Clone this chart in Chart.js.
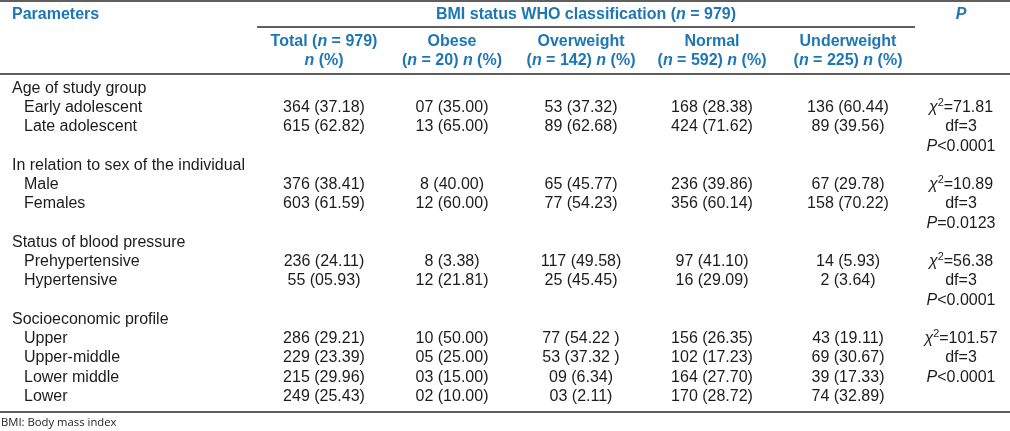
<!DOCTYPE html>
<html><head><meta charset="utf-8">
<script src="https://cdn.jsdelivr.net/npm/chart.js@4"></script>
<style>html,body{margin:0;padding:0;background:#fff;overflow:hidden}canvas{display:block}</style>
</head><body><canvas id="c" width="1010" height="431"></canvas>
<script>
// ---------- DATA ----------
const groupLabels = ["Age of study group", "In relation to sex of the individual", "Status of blood pressure", "Socioeconomic profile"];
const subLabels = [["Early adolescent", "Late adolescent"], ["Male", "Females"], ["Prehypertensive", "Hypertensive"], ["Upper", "Upper-middle", "Lower middle", "Lower"]];
const colTitles = ["Total", "Obese", "Overweight", "Normal", "Underweight"];
const colN = ["979", "20", "142", "592", "225"];
const totalVals = ["364 (37.18)", "615 (62.82)", "376 (38.41)", "603 (61.59)", "236 (24.11)", "55 (05.93)", "286 (29.21)", "229 (23.39)", "215 (29.96)", "249 (25.43)"];
const obeseVals = ["07 (35.00)", "13 (65.00)", "8 (40.00)", "12 (60.00)", "8 (3.38)", "12 (21.81)", "10 (50.00)", "05 (25.00)", "03 (15.00)", "02 (10.00)"];
const overweightVals = ["53 (37.32)", "89 (62.68)", "65 (45.77)", "77 (54.23)", "117 (49.58)", "25 (45.45)", "77 (54.22 )", "53 (37.32 )", "09 (6.34)", "03 (2.11)"];
const normalVals = ["168 (28.38)", "424 (71.62)", "236 (39.86)", "356 (60.14)", "97 (41.10)", "16 (29.09)", "156 (26.35)", "102 (17.23)", "164 (27.70)", "170 (28.72)"];
const underweightVals = ["136 (60.44)", "89 (39.56)", "67 (29.78)", "158 (70.22)", "14 (5.93)", "2 (3.64)", "43 (19.11)", "69 (30.67)", "39 (17.33)", "74 (32.89)"];
const chiSq = ["71.81", "10.89", "56.38", "101.57"];
const dfVals = ["3", "3", "3", "3"];
const pVals = ["<0.0001", "=0.0123", "<0.0001", "<0.0001"];
const footnote = "BMI: Body mass index";

// ---------- LAYOUT / STYLE ----------
const FONT = '"Liberation Sans", Arial, sans-serif';
const BLUE = '#1d76b6';
const TXT = '#1c1c1c';
const LINE = '#2a2a2a';
const SIZE = 16;
const COLX = [324, 452, 581, 712, 848, 961];
const LABX = 12, SUBX = 24;
const ROW0 = 87, ROWH = 19.25, H = 431, W = 1010;

// Build rows (row index -> cells)
const labelPts = [], subPts = [], dataCols = [[], [], [], [], []], statPts = [];
const colArrays = [totalVals, obeseVals, overweightVals, normalVals, underweightVals];
let r = 0, k = 0;
groupLabels.forEach((g, gi) => {
  labelPts.push({x: LABX, y: r, t: g});
  subLabels[gi].forEach((s, si) => {
    subPts.push({x: SUBX, y: r + 1 + si, t: s});
    colArrays.forEach((arr, ci) => dataCols[ci].push({x: COLX[ci], y: r + 1 + si, t: arr[k]}));
    k++;
  });
  statPts.push({x: COLX[5], y: r + 1, seg: [{t: 'χ', i: 1}, {t: '2', sup: 1}, {t: '=' + chiSq[gi]}]});
  statPts.push({x: COLX[5], y: r + 2, seg: [{t: 'df=' + dfVals[gi]}]});
  statPts.push({x: COLX[5], y: r + 3, seg: [{t: 'P', i: 1}, {t: pVals[gi]}]});
  r += 1 + Math.max(subLabels[gi].length, 3);
});

function font(size, bold, it) {
  return (it ? 'italic ' : '') + (bold ? 'bold ' : '') + size + 'px ' + FONT;
}
function drawRich(ctx, segs, x, yc, align, size, bold, color) {
  let w = 0;
  const m = segs.map(s => {
    const sz = s.sup ? size * 0.68 : size;
    ctx.font = font(sz, bold, s.i);
    const ww = ctx.measureText(s.t).width;
    w += ww;
    return {s, sz, ww};
  });
  let cx = align === 'center' ? x - w / 2 : (align === 'right' ? x - w : x);
  const base = yc + size * 0.36;
  ctx.fillStyle = color;
  ctx.textBaseline = 'alphabetic';
  ctx.textAlign = 'left';
  m.forEach(o => {
    ctx.font = font(o.sz, bold, o.s.i);
    ctx.fillText(o.s.t, cx, o.s.sup ? base - size * 0.40 : base);
    cx += o.ww;
  });
}
const segN = (pre, n, post) => [{t: pre}, {t: 'n', i: 1}, {t: post}];

const tablePlugin = {
  id: 'table',
  afterDatasetsDraw(chart) {
    const ctx = chart.ctx, xs = chart.scales.x, ys = chart.scales.y;
    const py = px => ys.getPixelForValue((px - ROW0) / ROWH);
    ctx.save();
    // rules
    ctx.strokeStyle = LINE;
    ctx.lineWidth = 1.5;
    const hline = (x0, x1, yy) => { ctx.beginPath(); ctx.moveTo(xs.getPixelForValue(x0), py(yy)); ctx.lineTo(xs.getPixelForValue(x1), py(yy)); ctx.stroke(); };
    hline(0, W, 1);
    hline(257, 915, 27);
    hline(0, W, 74);
    hline(0, W, 412);
    // header
    const hx = v => xs.getPixelForValue(v);
    drawRich(ctx, [{t: 'Parameters'}], hx(12), py(13), 'left', SIZE, true, BLUE);
    drawRich(ctx, segN('BMI status WHO classification (', '', ' = 979)'), hx(586), py(13), 'center', SIZE, true, BLUE);
    drawRich(ctx, [{t: 'P', i: 1}], hx(COLX[5]), py(13), 'center', SIZE, true, BLUE);
    colTitles.forEach((t, i) => {
      if (i === 0) {
        drawRich(ctx, segN('Total (', '', ' = ' + colN[0] + ')'), hx(COLX[0]), py(40), 'center', SIZE, true, BLUE);
        drawRich(ctx, [{t: 'n', i: 1}, {t: ' (%)'}], hx(COLX[0]), py(59), 'center', SIZE, true, BLUE);
      } else {
        drawRich(ctx, [{t: t}], hx(COLX[i]), py(40), 'center', SIZE, true, BLUE);
        drawRich(ctx, [{t: '('}, {t: 'n', i: 1}, {t: ' = ' + colN[i] + ') '}, {t: 'n', i: 1}, {t: ' (%)'}], hx(COLX[i]), py(59), 'center', SIZE, true, BLUE);
      }
    });
    // body cells from dataset elements
    chart.data.datasets.forEach((ds, di) => {
      const meta = chart.getDatasetMeta(di);
      meta.data.forEach((el, i) => {
        const p = ds.data[i];
        const segs = p.seg || [{t: p.t}];
        drawRich(ctx, segs, el.x, el.y, ds.align, SIZE, false, TXT);
      });
    });
    // footnote
    ctx.fillStyle = '#222';
    ctx.font = '11.3px "Open Sans", sans-serif';
    ctx.textBaseline = 'alphabetic';
    ctx.textAlign = 'left';
    ctx.fillText(footnote, hx(1), py(426));
    ctx.restore();
  }
};

const mk = (data, align) => ({data, align, pointRadius: 0, pointHoverRadius: 0, showLine: false});
new Chart(document.getElementById('c'), {
  type: 'scatter',
  data: {
    datasets: [mk(labelPts, 'left'), mk(subPts, 'left'), ...dataCols.map(d => mk(d, 'center')), mk(statPts, 'center')]
  },
  options: {
    responsive: false, animation: false, devicePixelRatio: 1,
    layout: {padding: 0},
    events: [],
    plugins: {legend: {display: false}, tooltip: {enabled: false}},
    scales: {
      x: {type: 'linear', display: false, min: 0, max: W},
      y: {type: 'linear', display: false, reverse: true, min: -ROW0 / ROWH, max: (H - ROW0) / ROWH}
    }
  },
  plugins: [tablePlugin]
});
</script>
</body></html>
